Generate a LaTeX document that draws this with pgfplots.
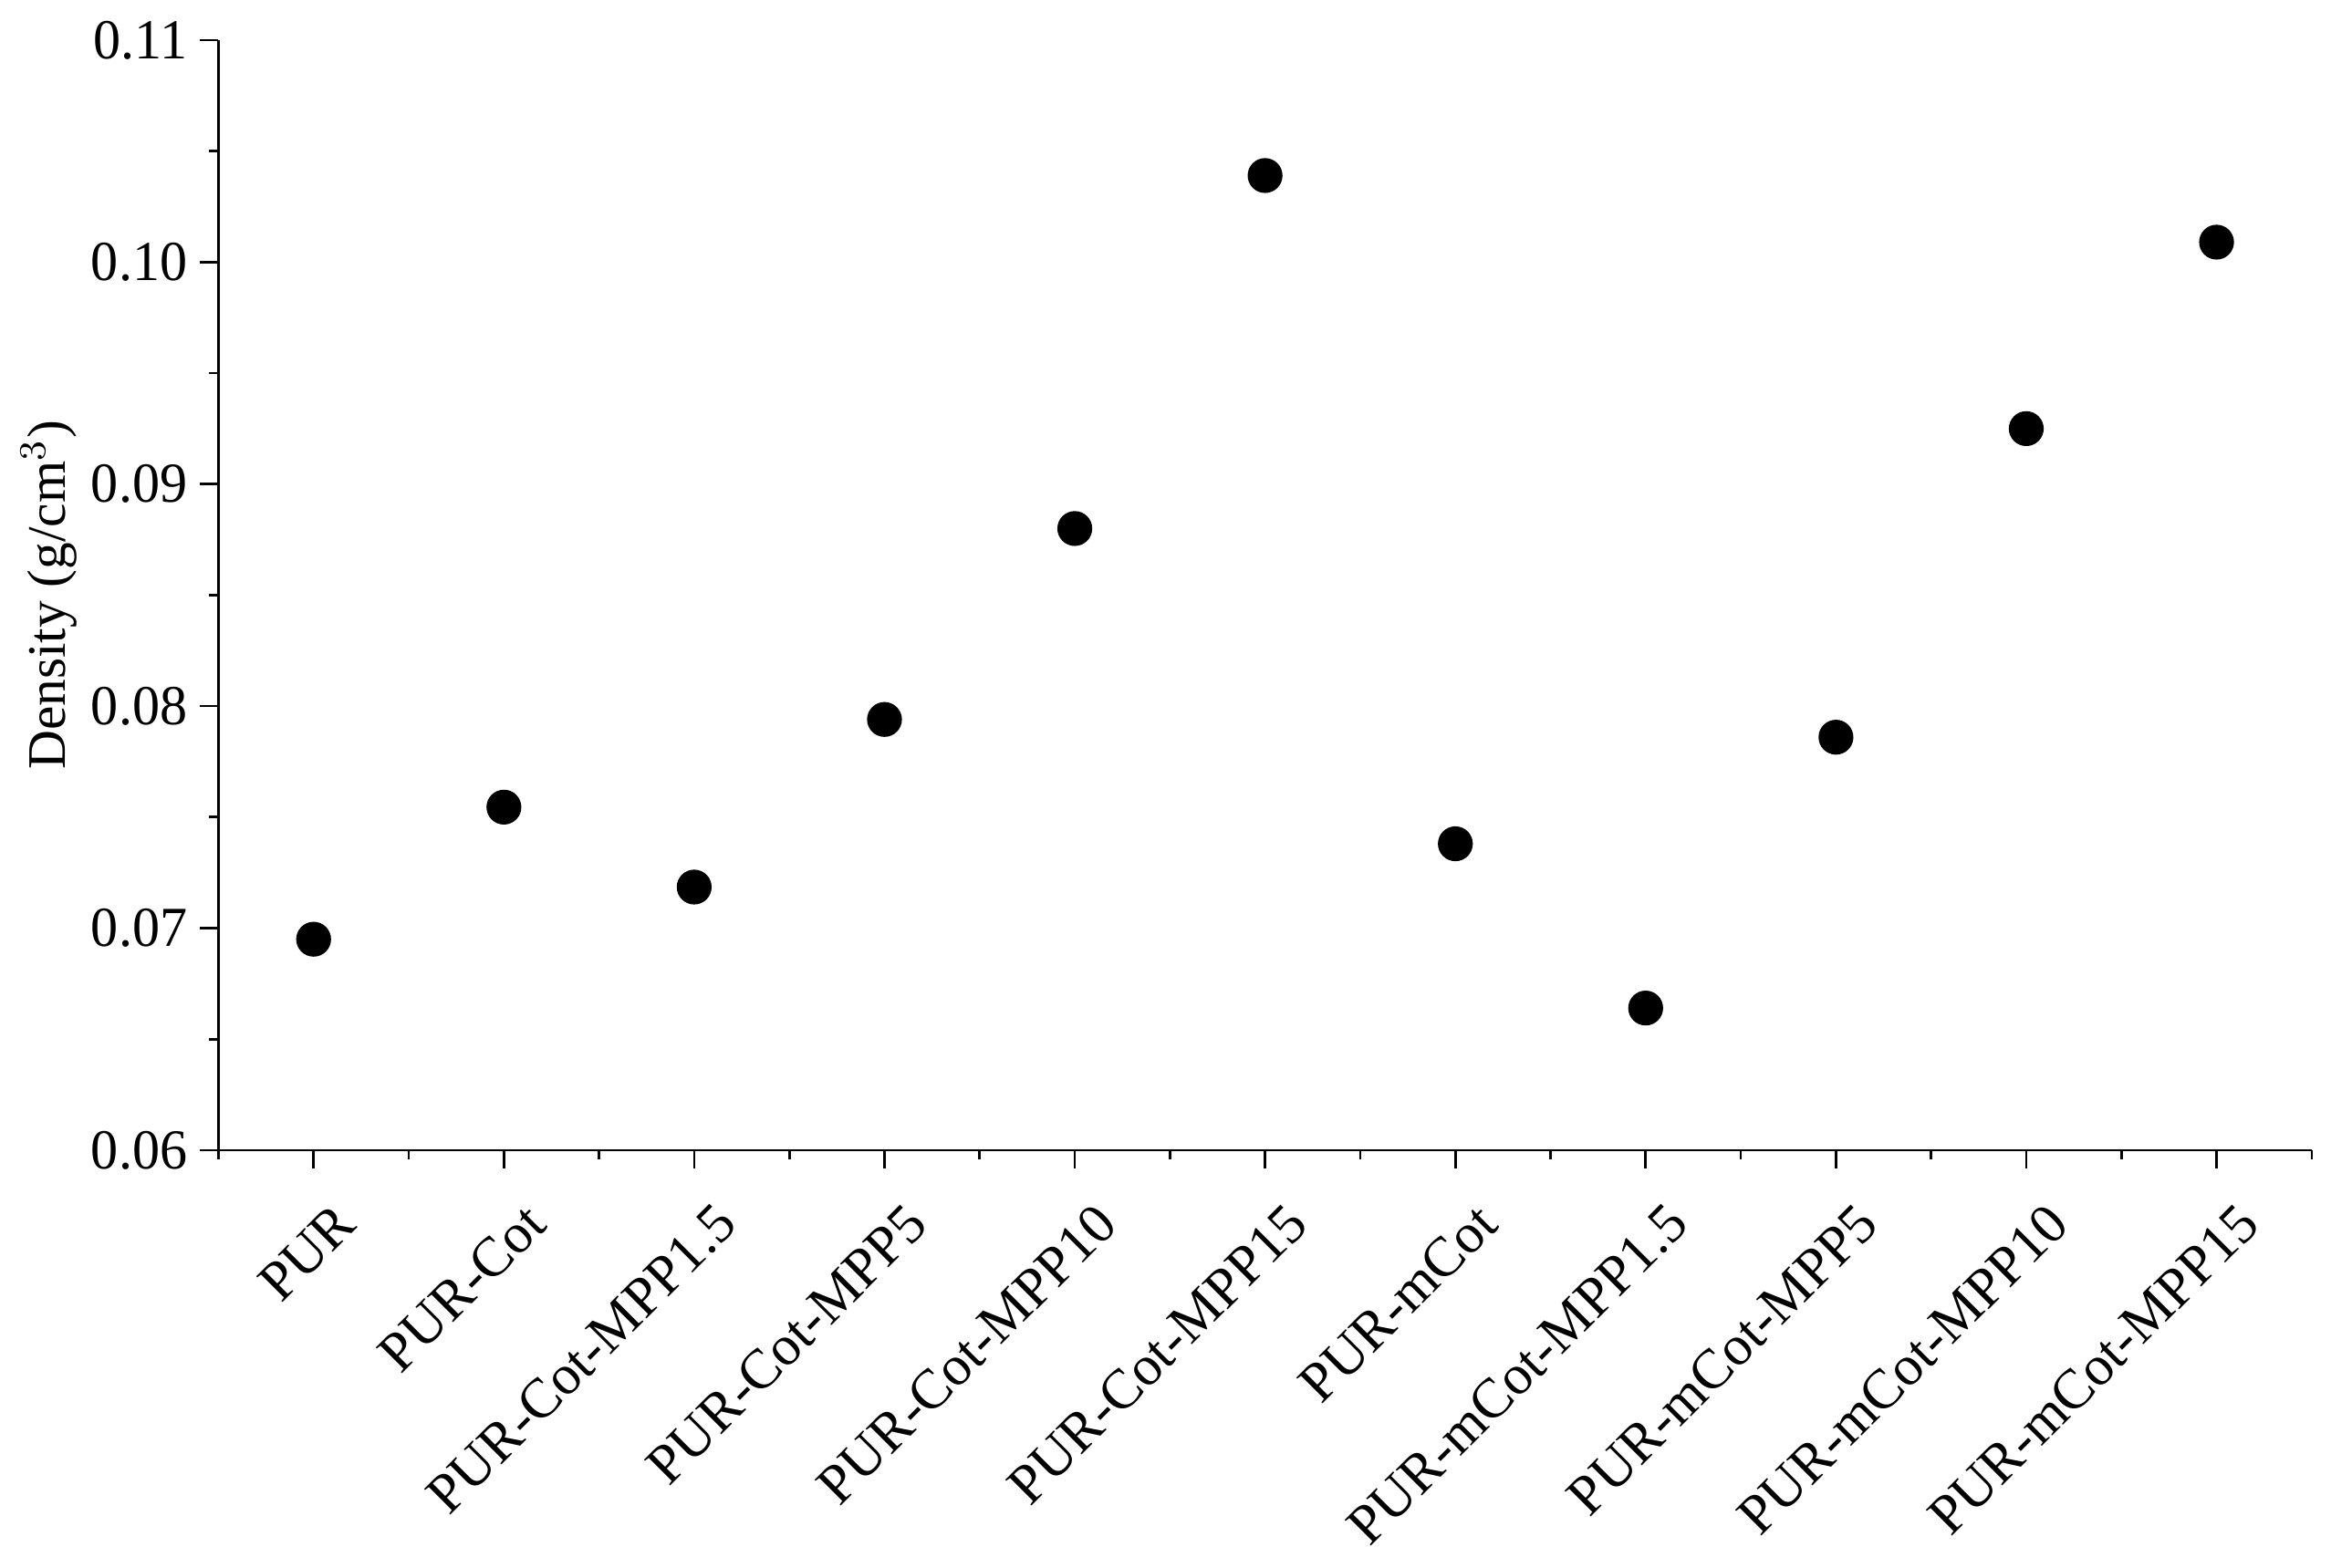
\documentclass[border=0pt]{standalone}
\usepackage{pgfplots}
\pgfplotsset{compat=1.18}
\usepackage{fontspec}
\setmainfont{Liberation Serif}
\newfontfamily\narrowserif[FakeStretch=0.97]{Liberation Serif}
\begin{document}
\begin{tikzpicture}
\begin{axis}[
  name=ax,
  width=444.2pt, height=235.6pt, scale only axis,
  xmin=-0.5, xmax=10.5, ymin=0.06, ymax=0.11,
  axis x line*=bottom, axis y line*=left,
  axis line style={line width=0.52pt, -},
  every tick/.style={line width=0.52pt, black},
  tick align=outside,
  major tick length=3.9pt, minor tick length=2pt,
  xtick={0,...,10},
  minor xtick={-0.5,0.5,...,10.5},
  xticklabels={PUR,PUR-Cot,PUR-Cot-MPP1.5,PUR-Cot-MPP5,PUR-Cot-MPP10,PUR-Cot-MPP15,PUR-mCot,PUR-mCot-MPP1.5,PUR-mCot-MPP5,PUR-mCot-MPP10,PUR-mCot-MPP15},
  xticklabel style={xshift=9.3pt, yshift=-7.2pt, rotate=45, anchor=east, font=\fontsize{11.9}{14}\selectfont},
  ytick={0.06,0.07,0.08,0.09,0.10,0.11},
  minor ytick={0.065,0.075,0.085,0.095,0.105},
  yticklabel style={xshift=0.8pt, font=\narrowserif\fontsize{12}{14}\selectfont, /pgf/number format/fixed, /pgf/number format/fixed zerofill, /pgf/number format/precision=2},
  /pgf/number format/assume math mode=true,
  scaled y ticks=false,
  ylabel={Density (g/cm$^3$)},
  ylabel style={font=\fontsize{11.5}{13}\selectfont, at={(axis description cs:-0.081,0.5)}, anchor=center},
  clip=false,
]
\addplot[only marks, mark=*, mark size=3.5pt, black] coordinates {
(0,0.0695) (1,0.07545) (2,0.07185) (3,0.0794) (4,0.0880) (5,0.1039)
(6,0.0738) (7,0.0664) (8,0.0786) (9,0.0925) (10,0.1009)
};
\end{axis}
\pgfresetboundingbox
\useasboundingbox ([xshift=-46.36pt, yshift=-88.65pt]ax.south west) rectangle ([xshift=4.1pt, yshift=8.52pt]ax.north east);
\end{tikzpicture}
\end{document}
